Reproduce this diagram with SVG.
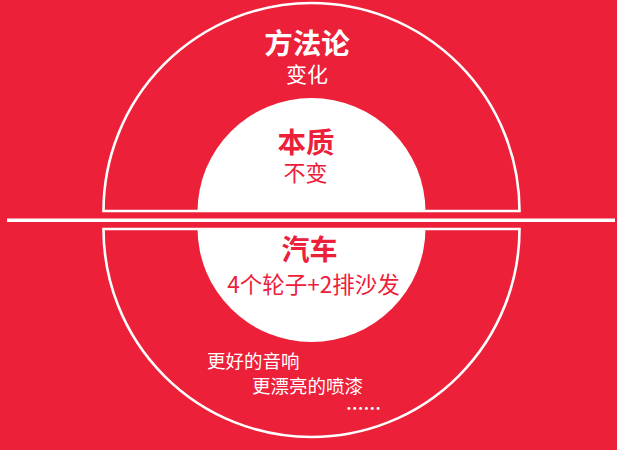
<svg xmlns="http://www.w3.org/2000/svg" width="617" height="450" viewBox="0 0 617 450">
<style>
.bg{fill:#EC2039}
.ring{fill:none;stroke:#fff;stroke-width:2.6}
.disc{fill:#fff}
text{font-family:"Noto Sans CJK SC","Noto Sans",sans-serif;text-anchor:middle}
.w{fill:#fff}
.r{fill:#EC2039}
.b{font-weight:bold}
</style>
<rect class="bg" x="0" y="0" width="617" height="450"/>
<g id="upper-half">
<path class="ring" d="M103.5 211 A208 208 0 0 1 519.5 211 Z"/>
<path class="disc" d="M197.5 212 A114 114 0 0 1 425.5 212 Z"/>
</g>
<g id="lower-half">
<path class="ring" d="M103.5 229 A208 208 0 0 0 519.5 229 Z"/>
<path class="disc" d="M197.5 228 A114 114 0 0 0 425.5 228 Z"/>
</g>
<g id="connectors">
<line x1="7" y1="220.2" x2="615" y2="220.2" stroke="#fff" stroke-width="3.4"/>
</g>
<g id="node-methodology">
<text class="w b" x="307" y="54" font-size="28.5">方法论</text>
<text class="w" x="307" y="82" font-size="21">变化</text>
</g>
<g id="node-essence">
<text class="r b" x="306" y="153" font-size="28.5">本质</text>
<text class="r" x="305.5" y="181" font-size="22">不变</text>
</g>
<g id="node-car">
<text class="r b" x="309.5" y="260" font-size="28">汽车</text>
<text class="r" x="313.5" y="293" font-size="22.5">4个轮子+2排沙发</text>
</g>
<g id="node-extras">
<text class="w" x="207" y="368" font-size="18.5" style="text-anchor:start">更好的音响</text>
<text class="w" x="252" y="393" font-size="18.5" style="text-anchor:start">更漂亮的喷漆</text>
<text class="w b" x="346" y="415" font-size="17.5" style="text-anchor:start">……</text>
</g>
</svg>
